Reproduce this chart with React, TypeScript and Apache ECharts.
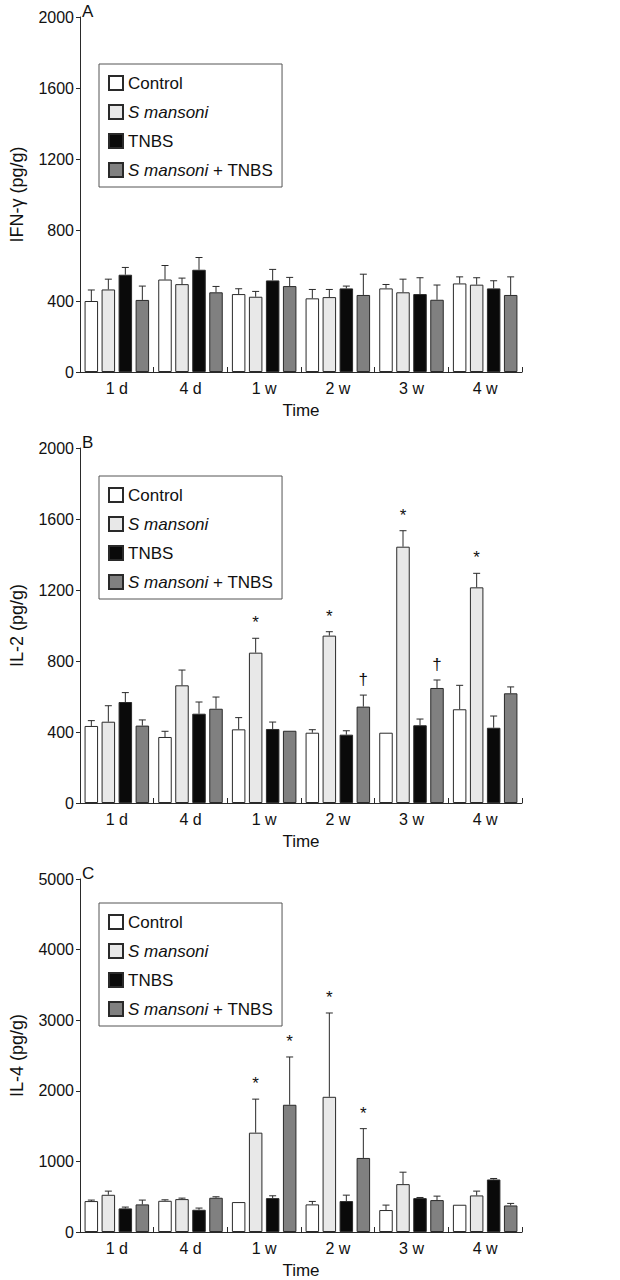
import React, { useEffect, useRef } from "react";
import * as echarts from "echarts";

const categories = ["1 d", "4 d", "1 w", "2 w", "3 w", "4 w"];
const groupNames = ["Control", "S mansoni", "TNBS", "S mansoni + TNBS"];

// Panel A: IFN-γ (mean, SEM)
const ifnControl = [400, 521, 439, 415, 471, 499];
const ifnControlSem = [62, 79, 30, 50, 22, 37];
const ifnSm = [465, 495, 424, 422, 449, 492];
const ifnSmSem = [58, 34, 30, 43, 74, 39];
const ifnTnbs = [548, 576, 516, 471, 439, 471];
const ifnTnbsSem = [41, 69, 62, 13, 92, 43];
const ifnSmTnbs = [406, 449, 484, 434, 407, 434];
const ifnSmTnbsSem = [78, 33, 49, 117, 83, 102];

// Panel B: IL-2
const il2Control = [434, 372, 415, 396, 396, 528];
const il2ControlSem = [30, 32, 66, 17, 0, 135];
const il2Sm = [458, 663, 847, 943, 1444, 1215];
const il2SmSem = [90, 86, 81, 22, 90, 79];
const il2Tnbs = [569, 503, 417, 385, 438, 424];
const il2TnbsSem = [53, 66, 39, 22, 35, 66];
const il2SmTnbs = [436, 531, 407, 543, 648, 618];
const il2SmTnbsSem = [32, 66, 0, 65, 45, 36];
const il2SmMarks = ["", "", "*", "*", "*", "*"];
const il2SmTnbsMarks = ["", "", "", "†", "†", ""];

// Panel C: IL-4
const il4Control = [438, 442, 424, 391, 311, 386];
const il4ControlSem = [14, 14, 0, 42, 70, 0];
const il4Sm = [527, 466, 1407, 1915, 678, 518];
const il4SmSem = [52, 14, 475, 1187, 169, 61];
const il4Tnbs = [334, 315, 480, 438, 480, 744];
const il4TnbsSem = [19, 24, 33, 84, 9, 14];
const il4SmTnbs = [391, 485, 1802, 1049, 452, 376];
const il4SmTnbsSem = [61, 14, 677, 415, 56, 29];
const il4SmMarks = ["", "", "*", "*", "", ""];
const il4SmTnbsMarks = ["", "", "*", "*", "", ""];

const yTicksAB = { max: 2000, interval: 400 };
const yTicksC = { max: 5000, interval: 1000 };

const FONT = "'Liberation Sans', Arial, sans-serif";
const fills = ["#ffffff", "#e8e8e8", "#0a0a0a", "#808080"];
const EDGE = "#2a2a2a";
const BAR_W = 13.5;
const BAR_STEP = 17;

type Panel = {
  letter: string;
  yName: string;
  top: number;
  legendTop: number;
  axis: { max: number; interval: number };
  means: number[][];
  sems: number[][];
  marks: string[][];
};

const empty = ["", "", "", "", "", ""];

const panels: Panel[] = [
  {
    letter: "A",
    yName: "IFN-γ (pg/g)",
    top: 17,
    legendTop: 64,
    axis: yTicksAB,
    means: [ifnControl, ifnSm, ifnTnbs, ifnSmTnbs],
    sems: [ifnControlSem, ifnSmSem, ifnTnbsSem, ifnSmTnbsSem],
    marks: [empty, empty, empty, empty],
  },
  {
    letter: "B",
    yName: "IL-2 (pg/g)",
    top: 448,
    legendTop: 476,
    axis: yTicksAB,
    means: [il2Control, il2Sm, il2Tnbs, il2SmTnbs],
    sems: [il2ControlSem, il2SmSem, il2TnbsSem, il2SmTnbsSem],
    marks: [empty, il2SmMarks, empty, il2SmTnbsMarks],
  },
  {
    letter: "C",
    yName: "IL-4 (pg/g)",
    top: 879,
    legendTop: 903,
    axis: yTicksC,
    means: [il4Control, il4Sm, il4Tnbs, il4SmTnbs],
    sems: [il4ControlSem, il4SmSem, il4TnbsSem, il4SmTnbsSem],
    marks: [empty, il4SmMarks, empty, il4SmTnbsMarks],
  },
];

function buildOption() {
  const grid: any[] = [];
  const xAxis: any[] = [];
  const yAxis: any[] = [];
  const legend: any[] = [];
  const series: any[] = [];
  const graphic: any[] = [];

  panels.forEach((p, pi) => {
    grid.push({ left: 68, top: p.top, width: 454, height: 355 });
    xAxis.push({
      type: "category",
      gridIndex: pi,
      data: categories,
      name: "Time",
      nameLocation: "middle",
      nameGap: 30,
      nameTextStyle: { fontFamily: FONT, fontSize: 17, color: "#111" },
      axisLine: { lineStyle: { color: EDGE, width: 1 } },
      axisTick: { show: true, inside: true, length: 5, interval: 0, lineStyle: { color: EDGE } },
      axisLabel: { fontFamily: FONT, fontSize: 16, color: "#111", margin: 8 },
      splitLine: { show: false },
    });
    yAxis.push({
      type: "value",
      gridIndex: pi,
      min: 0,
      max: p.axis.max,
      interval: p.axis.interval,
      name: p.yName,
      nameLocation: "middle",
      nameGap: 54,
      nameRotate: 90,
      nameTextStyle: { fontFamily: FONT, fontSize: 18, color: "#111" },
      axisLine: { show: true, lineStyle: { color: EDGE, width: 1 } },
      axisTick: { show: true, length: 4, lineStyle: { color: EDGE } },
      axisLabel: {
        fontFamily: FONT,
        fontSize: 16,
        color: "#111",
        margin: 6,
        formatter: (v: number) => String(v),
      },
      splitLine: { show: false },
    });
    legend.push({
      left: 99,
      top: p.legendTop,
      orient: "vertical",
      data: groupNames,
      itemWidth: 14,
      itemHeight: 14,
      itemGap: 9,
      padding: [9, 9, 7, 9],
      borderColor: "#555",
      borderWidth: 1,
      backgroundColor: "#fff",
      selectedMode: false,
      icon: "rect",
      formatter: (name: string) =>
        name === "S mansoni"
          ? "{i|S mansoni}"
          : name === "S mansoni + TNBS"
          ? "{i|S mansoni} + TNBS"
          : name,
      textStyle: {
        fontFamily: FONT,
        fontSize: 17,
        color: "#111",
        lineHeight: 20,
        rich: { i: { fontFamily: FONT, fontSize: 17, fontStyle: "italic", color: "#111", lineHeight: 20 } },
      },
    });
    graphic.push({
      type: "text",
      left: 82,
      top: p.top - 14,
      style: { text: p.letter, fontFamily: FONT, fontSize: 17, fill: "#111" },
    });

    groupNames.forEach((g, k) => {
      series.push({
        type: "bar",
        name: g,
        xAxisIndex: pi,
        yAxisIndex: pi,
        data: p.means[k],
        barWidth: BAR_W,
        barGap: "26%",
        itemStyle: { color: fills[k], borderColor: EDGE, borderWidth: 1 },
        emphasis: { disabled: true },
      });
    });
    groupNames.forEach((g, k) => {
      const means = p.means[k];
      const sems = p.sems[k];
      const marks = p.marks[k];
      series.push({
        type: "custom",
        name: `err-${p.letter}-${k}`,
        xAxisIndex: pi,
        yAxisIndex: pi,
        data: means.map((m, i) => [i, m, m + sems[i]]),
        z: 3,
        renderItem: (params: any, api: any) => {
          const i = params.dataIndex;
          const base = api.coord([api.value(0), api.value(1)]);
          const topPt = api.coord([api.value(0), api.value(2)]);
          const x = base[0] + (k - 1.5) * BAR_STEP;
          const children: any[] = [];
          if (sems[i] > 0) {
            children.push({
              type: "line",
              shape: { x1: x, y1: base[1], x2: x, y2: topPt[1] },
              style: { stroke: EDGE, lineWidth: 1 },
            });
            children.push({
              type: "line",
              shape: { x1: x - 3.5, y1: topPt[1], x2: x + 3.5, y2: topPt[1] },
              style: { stroke: EDGE, lineWidth: 1 },
            });
          }
          if (marks[i]) {
            children.push({
              type: "text",
              x: x,
              y: topPt[1] - 7,
              style: {
                text: marks[i],
                fontFamily: FONT,
                fontSize: 17,
                fill: "#111",
                align: "center",
                verticalAlign: "bottom",
              },
            });
          }
          return { type: "group", children };
        },
      });
    });
  });

  return { animation: false, grid, xAxis, yAxis, legend, series, graphic };
}

export default function App() {
  const ref = useRef<HTMLDivElement>(null);
  useEffect(() => {
    if (!ref.current) return;
    const chart = echarts.init(ref.current, undefined, { renderer: "svg" });
    chart.setOption(buildOption());
    return () => chart.dispose();
  }, []);
  return (
    <div
      ref={ref}
      style={{ position: "absolute", left: 0, top: 0, width: 620, height: 1280, background: "#fff" }}
    />
  );
}
